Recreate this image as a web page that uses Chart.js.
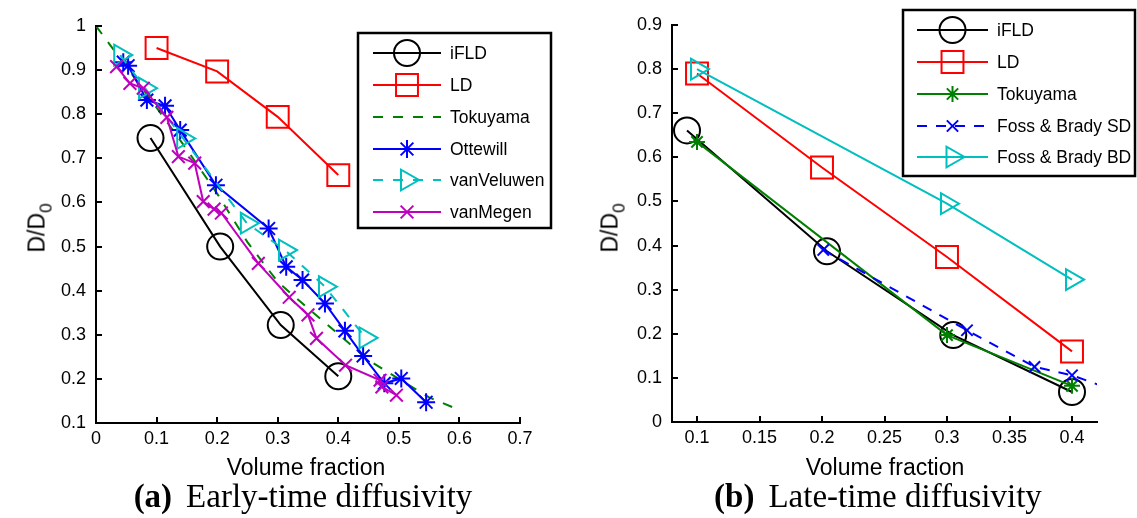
<!DOCTYPE html>
<html><head><meta charset="utf-8">
<script src="https://cdn.jsdelivr.net/npm/chart.js@4.4.1/dist/chart.umd.min.js"></script>
<style>
html,body{margin:0;padding:0;background:#fff;}
body{width:1137px;height:518px;position:relative;overflow:hidden;font-family:"Liberation Sans",Arial,sans-serif;color:#000;}
canvas{position:absolute;top:0;}
#ca{left:0;}
#cb{left:560px;}
.xt{position:absolute;font-size:23px;transform:translate(-50%,-50%);white-space:nowrap;}
.yt{position:absolute;font-size:23px;transform:translate(-50%,-50%) rotate(-90deg);white-space:nowrap;}
.yt sub{font-size:17px;vertical-align:-7px;}
.cap{position:absolute;font-family:"Liberation Serif","Times New Roman",serif;font-size:33px;transform:translate(-50%,-50%);white-space:nowrap;}
.cap b{margin-right:14px;}
</style></head>
<body>
<canvas id="ca" width="560" height="518"></canvas>
<canvas id="cb" width="577" height="518"></canvas>
<div class="yt" style="left:40px;top:228px;">D/D<sub>0</sub></div>
<div class="yt" style="left:613px;top:228px;">D/D<sub>0</sub></div>
<div class="xt" style="left:306px;top:467px;">Volume fraction</div>
<div class="xt" style="left:885px;top:467px;">Volume fraction</div>
<div class="cap" style="left:303px;top:496px;"><b>(a)</b>Early-time diffusivity</div>
<div class="cap" style="left:878px;top:496px;"><b>(b)</b>Late-time diffusivity</div>
<script>
// ---------- Panel (a): early-time diffusivity ----------
const aIFLD_x = [0.09, 0.205, 0.305, 0.40];
const aIFLD_y = [0.746, 0.500, 0.322, 0.206];
const aLD_x = [0.10, 0.20, 0.30, 0.40];
const aLD_y = [0.950, 0.897, 0.794, 0.662];
const aTok_x = [0, 0.05, 0.10, 0.15, 0.20, 0.25, 0.30, 0.35, 0.40, 0.45, 0.50, 0.55, 0.59];
const aTok_y = [1.0, 0.908, 0.815, 0.720, 0.620, 0.510, 0.420, 0.360, 0.302, 0.242, 0.200, 0.158, 0.135];
const aOtt_x = [0.045, 0.053, 0.084, 0.114, 0.139, 0.198, 0.285, 0.314, 0.341, 0.378, 0.411, 0.441, 0.476, 0.504, 0.545];
const aOtt_y = [0.918, 0.910, 0.832, 0.819, 0.764, 0.639, 0.541, 0.454, 0.424, 0.371, 0.309, 0.252, 0.190, 0.201, 0.147];
const aVel_x = [0.040, 0.081, 0.144, 0.249, 0.312, 0.378, 0.445];
const aVel_y = [0.934, 0.859, 0.745, 0.553, 0.492, 0.409, 0.293];
const aMeg_x = [0.034, 0.056, 0.078, 0.117, 0.136, 0.163, 0.177, 0.195, 0.207, 0.268, 0.319, 0.350, 0.364, 0.412, 0.469, 0.472, 0.496];
const aMeg_y = [0.908, 0.870, 0.859, 0.793, 0.704, 0.689, 0.602, 0.585, 0.576, 0.462, 0.385, 0.345, 0.292, 0.231, 0.197, 0.182, 0.163];
const aXTicks = [0, 0.1, 0.2, 0.3, 0.4, 0.5, 0.6, 0.7];
const aXLabels = ["0", "0.1", "0.2", "0.3", "0.4", "0.5", "0.6", "0.7"];
const aYTicks = [0.1, 0.2, 0.3, 0.4, 0.5, 0.6, 0.7, 0.8, 0.9, 1.0];
const aYLabels = ["0.1", "0.2", "0.3", "0.4", "0.5", "0.6", "0.7", "0.8", "0.9", "1"];

// ---------- Panel (b): late-time diffusivity ----------
const bIFLD_x = [0.092, 0.204, 0.305, 0.40];
const bIFLD_y = [0.661, 0.387, 0.197, 0.068];
const bLD_x = [0.10, 0.20, 0.30, 0.40];
const bLD_y = [0.790, 0.577, 0.374, 0.160];
const bTok_x = [0.10, 0.30, 0.40];
const bTok_y = [0.635, 0.197, 0.082];
const bSD_x = [0.201, 0.316, 0.370, 0.400, 0.450];
const bSD_y = [0.390, 0.208, 0.125, 0.106, 0.055];
const bBD_x = [0.10, 0.30, 0.40];
const bBD_y = [0.800, 0.495, 0.323];
const bXTicks = [0.1, 0.15, 0.2, 0.25, 0.3, 0.35, 0.4];
const bXLabels = ["0.1", "0.15", "0.2", "0.25", "0.3", "0.35", "0.4"];
const bYTicks = [0, 0.1, 0.2, 0.3, 0.4, 0.5, 0.6, 0.7, 0.8, 0.9];
const bYLabels = ["0", "0.1", "0.2", "0.3", "0.4", "0.5", "0.6", "0.7", "0.8", "0.9"];

const C = {black:'#000000', red:'#ff0000', green:'#008000', blue:'#0000ff', cyan:'#00bfbf', magenta:'#bf00bf'};
const pts = (xs, ys) => xs.map((x, i) => ({x: x, y: ys[i]}));

function ds(label, xs, ys, color, style, radius, dash, rot) {
  return {
    label: label, data: pts(xs, ys),
    borderColor: color, borderWidth: 2, borderDash: dash || [],
    pointStyle: style || false, pointRadius: radius, pointRotation: rot || 0,
    pointBorderColor: color, pointBackgroundColor: 'rgba(0,0,0,0)', pointBorderWidth: 2,
    pointHoverRadius: radius, fill: false, tension: 0
  };
}

function drawMarker(ctx, d, x, y) {
  const r = Array.isArray(d.pointRadius) ? Math.max.apply(null, d.pointRadius) : d.pointRadius;
  if (!r || !d.pointStyle) return;
  ctx.save();
  ctx.setLineDash([]);
  ctx.strokeStyle = d.pointBorderColor;
  ctx.fillStyle = 'rgba(0,0,0,0)';
  ctx.lineWidth = d.pointBorderWidth;
  Chart.helpers.drawPoint(ctx, {pointStyle: d.pointStyle, rotation: d.pointRotation || 0, radius: r, borderWidth: d.pointBorderWidth}, x, y);
  ctx.restore();
}

const axesPlugin = {
  id: 'axesDeco',
  afterDraw(chart, args, o) {
    const ctx = chart.ctx, a = chart.chartArea;
    const xs = chart.scales.x, ys = chart.scales.y;
    ctx.save();
    ctx.strokeStyle = '#000'; ctx.lineWidth = 2; ctx.setLineDash([]);
    ctx.beginPath();
    xs.ticks.forEach(t => { const p = Math.round(xs.getPixelForValue(t.value)); ctx.moveTo(p, a.bottom); ctx.lineTo(p, a.bottom - 6); });
    ys.ticks.forEach(t => { const p = Math.round(ys.getPixelForValue(t.value)); ctx.moveTo(a.left, p); ctx.lineTo(a.left + 6, p); });
    ctx.stroke();
    // legend
    const L = o.legend;
    ctx.fillStyle = '#fff';
    ctx.fillRect(L.x0, L.y0, L.x1 - L.x0, L.y1 - L.y0);
    ctx.lineWidth = 2.5; ctx.strokeStyle = '#000';
    ctx.strokeRect(L.x0, L.y0, L.x1 - L.x0, L.y1 - L.y0);
    ctx.font = '17.5px "Liberation Sans", Arial, sans-serif';
    ctx.textBaseline = 'middle'; ctx.textAlign = 'left';
    chart.data.datasets.forEach((d, i) => {
      const y = L.rows[i];
      ctx.save();
      ctx.strokeStyle = d.borderColor; ctx.lineWidth = d.borderWidth;
      ctx.setLineDash(d.borderDash || []);
      ctx.beginPath(); ctx.moveTo(L.s0, y); ctx.lineTo(L.s1, y); ctx.stroke();
      ctx.restore();
      drawMarker(ctx, d, (L.s0 + L.s1) / 2, y);
      ctx.fillStyle = '#000';
      ctx.fillText(d.label, L.tx, y + 1);
    });
    ctx.restore();
  }
};

function makeScales(xmin, xmax, xT, xL, ymin, ymax, yT, yL, yW) {
  const font = {family: '"Liberation Sans", Arial, sans-serif', size: 18};
  return {
    x: {
      type: 'linear', min: xmin, max: xmax,
      afterBuildTicks: s => { s.ticks = xT.map(v => ({value: v})); },
      afterFit: s => { s.height = 30; },
      ticks: {font: font, color: '#000', padding: 5, maxRotation: 0, autoSkip: false,
              callback: (v, i) => xL[i]},
      grid: {display: true, drawOnChartArea: false, drawTicks: false},
      border: {display: true, color: '#000', width: 2}
    },
    y: {
      type: 'linear', min: ymin, max: ymax,
      afterBuildTicks: s => { s.ticks = yT.map(v => ({value: v})); },
      afterFit: s => { s.width = yW; },
      ticks: {font: font, color: '#000', padding: 10, autoSkip: false,
              callback: (v, i) => yL[i]},
      grid: {display: true, drawOnChartArea: false, drawTicks: false},
      border: {display: true, color: '#000', width: 2}
    }
  };
}

const common = {
  responsive: false, animation: false, devicePixelRatio: 1, events: [],
  plugins: {legend: {display: false}, tooltip: {enabled: false}}
};

const dsA = [
  ds('iFLD', aIFLD_x, aIFLD_y, C.black, 'circle', 13),
  ds('LD', aLD_x, aLD_y, C.red, 'rect', 15.5),
  ds('Tokuyama', aTok_x, aTok_y, C.green, false, 0, [10, 10]),
  ds('Ottewill', aOtt_x, aOtt_y, C.blue, 'star', 9),
  ds('vanVeluwen', aVel_x, aVel_y, C.cyan, 'triangle', 12, [10, 10], 90),
  ds('vanMegen', aMeg_x, aMeg_y, C.magenta, 'crossRot', 9)
];
dsA.forEach((d, i) => d.order = dsA.length - i);

new Chart(document.getElementById('ca'), {
  type: 'line',
  data: {datasets: dsA},
  options: Object.assign({}, common, {
    layout: {padding: {left: 0, top: 26, right: 40, bottom: 65}},
    scales: makeScales(0, 0.7, aXTicks, aXLabels, 0.1, 1.0, aYTicks, aYLabels, 96),
    plugins: Object.assign({}, common.plugins, {
      axesDeco: {legend: {x0: 358, y0: 33, x1: 551, y1: 228, s0: 373, s1: 441, tx: 450,
                          rows: [53, 85, 117, 149, 180, 212]}}
    })
  }),
  plugins: [axesPlugin]
});

const dsB = [
  ds('iFLD', bIFLD_x, bIFLD_y, C.black, 'circle', 13),
  ds('LD', bLD_x, bLD_y, C.red, 'rect', 15.5),
  ds('Tokuyama', bTok_x, bTok_y, C.green, 'star', 8),
  ds('Foss & Brady SD', bSD_x, bSD_y, C.blue, 'crossRot', [8, 8, 8, 8, 0], [10, 9]),
  ds('Foss & Brady BD', bBD_x, bBD_y, C.cyan, 'triangle', 12, [], 90)
];
dsB.forEach((d, i) => d.order = dsB.length - i);

new Chart(document.getElementById('cb'), {
  type: 'line',
  data: {datasets: dsB},
  options: Object.assign({}, common, {
    layout: {padding: {left: 0, top: 25, right: 40, bottom: 66}},
    scales: makeScales(0.08, 0.42, bXTicks, bXLabels, 0, 0.9, bYTicks, bYLabels, 112),
    plugins: Object.assign({}, common.plugins, {
      axesDeco: {legend: {x0: 343, y0: 10, x1: 575, y1: 176, s0: 357, s1: 428, tx: 437,
                          rows: [30, 62, 94, 126, 157]}}
    })
  }),
  plugins: [axesPlugin]
});
</script>
</body></html>
